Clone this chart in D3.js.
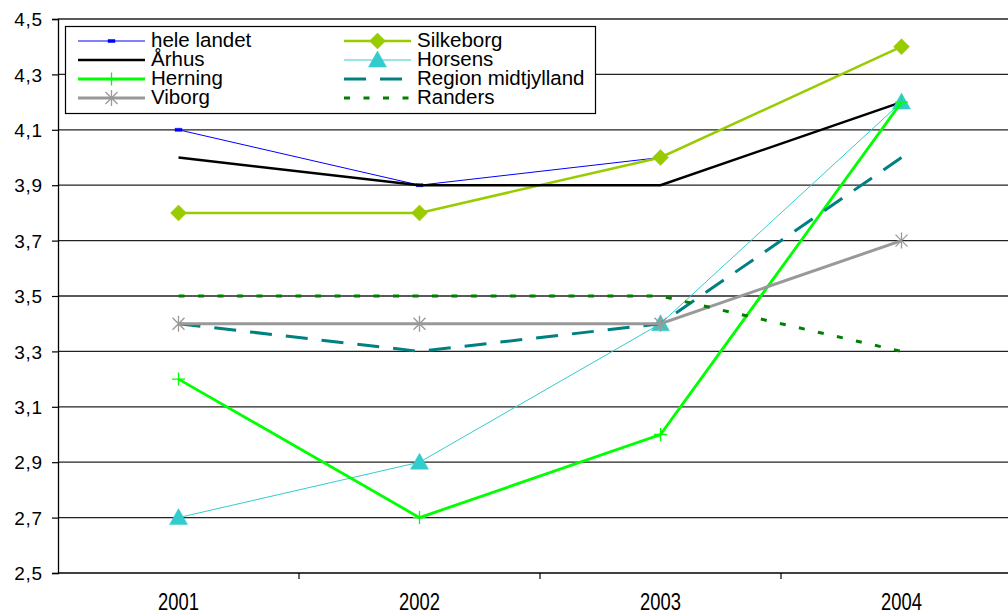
<!DOCTYPE html>
<html><head><meta charset="utf-8">
<script src="https://cdn.jsdelivr.net/npm/d3@7"></script>
<style>
html,body{margin:0;padding:0;background:#fff;}
text{font-family:"Liberation Sans",Arial,sans-serif;fill:#000;}
</style></head>
<body><svg id="c" width="1008" height="613"></svg>
<script>
// ---- data ----
const years = ["2001", "2002", "2003", "2004"];
const yTickValues = [2.5, 2.7, 2.9, 3.1, 3.3, 3.5, 3.7, 3.9, 4.1, 4.3, 4.5];
const seriesNames = ["hele landet", "Silkeborg", "Århus", "Horsens", "Herning", "Region midtjylland", "Viborg", "Randers"];
const heleLandet = [4.1, 3.9, 4.0, null];
const silkeborg = [3.8, 3.8, 4.0, 4.4];
const aarhus = [4.0, 3.9, 3.9, 4.2];
const horsens = [2.7, 2.9, 3.4, 4.2];
const herning = [3.2, 2.7, 3.0, 4.2];
const regionMidt = [3.4, 3.3, 3.4, 4.0];
const viborg = [3.4, 3.4, 3.4, 3.7];
const randers = [3.5, 3.5, 3.5, 3.3];
const seriesValues = [heleLandet, silkeborg, aarhus, horsens, herning, regionMidt, viborg, randers];

// ---- styles ----
const styles = [
  {color:"#0000FF", width:1,   dash:null,   marker:"dash"},
  {color:"#99CC00", width:2.5, dash:null,   marker:"diamond"},
  {color:"#000000", width:2.5, dash:null,   marker:null},
  {color:"#33CCCC", width:1,   dash:null,   marker:"triangle"},
  {color:"#00FF00", width:2.8, dash:null,   marker:"plus"},
  {color:"#008080", width:3,   dash:"22,14", marker:null},
  {color:"#999999", width:3,   dash:null,   marker:"asterisk"},
  {color:"#008000", width:3,   dash:"6,13.5", marker:null}
];

const svg = d3.select("#c");
const plotLeft = 58, plotTop = 19, plotBottom = 573, bandW = 241;
const x = d3.scaleBand().domain(years).range([plotLeft, plotLeft + bandW * years.length]).padding(0);
const y = d3.scaleLinear().domain([2.5, 4.5]).range([plotBottom, plotTop]);
const fmt = d3.formatLocale({decimal:",", thousands:".", grouping:[3], currency:["","kr"]}).format(".1f");
const cx = d => x(d) + x.bandwidth() / 2;

// gridlines
svg.append("g").selectAll("line").data(yTickValues.filter(v => v > 2.5)).join("line")
  .attr("x1", plotLeft).attr("x2", 1008).attr("y1", d => y(d)).attr("y2", d => y(d))
  .attr("stroke", "#222").attr("stroke-width", 1.3);

// y axis
const yAxis = svg.append("g").attr("transform", `translate(${plotLeft},0)`)
  .call(d3.axisLeft(y).tickValues(yTickValues).tickFormat(fmt).tickSize(6).tickPadding(9));
yAxis.select(".domain").attr("stroke", "#000").attr("stroke-width", 1.3);
yAxis.selectAll(".tick line").attr("stroke", "#000").attr("stroke-width", 1.2);
yAxis.selectAll(".tick text").attr("font-size", 19).attr("fill", "#000")
  .attr("font-family", '"Liberation Sans",Arial,sans-serif').attr("letter-spacing", 0.8).attr("dy", "0.35em");

// x axis
svg.append("line").attr("x1", plotLeft).attr("x2", 1008).attr("y1", plotBottom).attr("y2", plotBottom)
  .attr("stroke", "#000").attr("stroke-width", 1.3);
svg.append("g").selectAll("line").data(years.slice(1)).join("line")
  .attr("x1", d => x(d)).attr("x2", d => x(d)).attr("y1", plotBottom).attr("y2", plotBottom + 6)
  .attr("stroke", "#000").attr("stroke-width", 1.2);
svg.append("g").selectAll("text").data(years).join("text")
  .attr("transform", d => `translate(${cx(d)},610) scale(0.8,1)`)
  .attr("text-anchor", "middle").attr("font-size", 23).text(d => d);

// markers
function markerPath(kind) {
  switch (kind) {
    case "dash": return "M-3.5,-1.5H3.5V1.5H-3.5Z";
    case "diamond": return "M0,-8L8,0L0,8L-8,0Z";
    case "triangle": return "M0,-9L9,7L-9,7Z";
    case "plus": return "M-6.5,0H6.5M0,-6.5V6.5";
    case "asterisk": return "M0,-8V8M-6,-6L6,6M-6,6L6,-6";
  }
  return null;
}
function drawMarker(g, kind, color, px, py) {
  const p = markerPath(kind);
  if (!p) return;
  const filled = kind === "dash" || kind === "diamond" || kind === "triangle";
  g.append("path").attr("d", p).attr("transform", `translate(${px},${py})`)
    .attr("fill", filled ? color : "none").attr("stroke", color)
    .attr("stroke-width", filled ? 0.5 : 1.3);
}

// series
const line = d3.line().defined(d => d.v != null).x(d => cx(d.year)).y(d => y(d.v));
seriesValues.forEach((vals, i) => {
  const st = styles[i];
  const pts = years.map((yr, j) => ({year: yr, v: vals[j]}));
  const g = svg.append("g");
  g.append("path").datum(pts).attr("d", line).attr("fill", "none")
    .attr("stroke", st.color).attr("stroke-width", st.width)
    .attr("stroke-dasharray", st.dash).attr("stroke-linejoin", "miter");
  pts.filter(p => p.v != null).forEach(p => drawMarker(g, st.marker, st.color, cx(p.year), y(p.v)));
});

// legend
const lg = svg.append("g");
lg.append("rect").attr("x", 65.5).attr("y", 26.5).attr("width", 530).attr("height", 87)
  .attr("fill", "#fff").attr("stroke", "#000").attr("stroke-width", 1.2);
const colX = [78, 344], rowY = [41, 60, 79, 98];
seriesNames.forEach((name, i) => {
  const st = styles[i];
  const lx = colX[i % 2], ly = rowY[Math.floor(i / 2)];
  lg.append("line").attr("x1", lx).attr("x2", lx + 67).attr("y1", ly).attr("y2", ly)
    .attr("stroke", st.color).attr("stroke-width", st.width).attr("stroke-dasharray", st.dash);
  drawMarker(lg, st.marker, st.color, lx + 33.5, ly);
  lg.append("text").attr("x", lx + 73).attr("y", ly + 6).attr("font-size", 20.5).text(name);
});
</script></body></html>
